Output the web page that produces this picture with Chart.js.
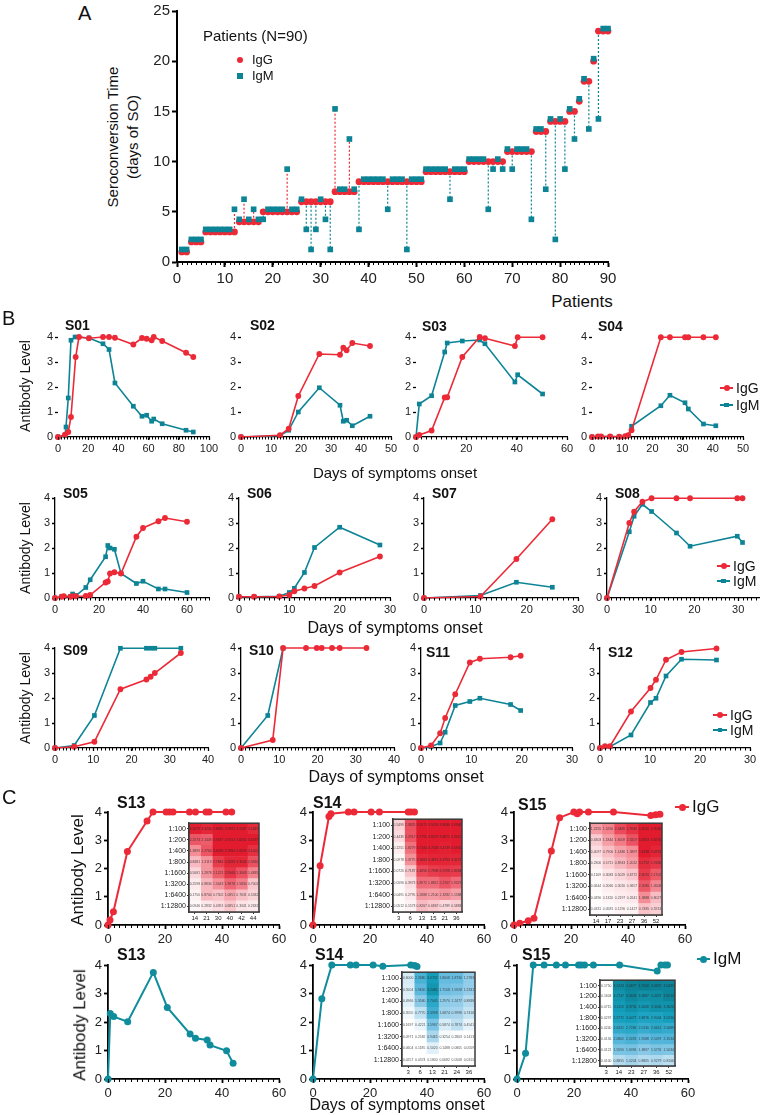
<!DOCTYPE html>
<html>
<head>
<meta charset="utf-8">
<title>Seroconversion and antibody kinetics</title>
<script src="https://cdn.jsdelivr.net/npm/chart.js@4.4.1/dist/chart.umd.min.js"></script>
<style>
  html, body { margin: 0; padding: 0; background: #fff; }
  body { position: relative; width: 760px; height: 1115px; overflow: hidden;
         font-family: "Liberation Sans", Arial, Helvetica, sans-serif; color: #111; }
  .txt { position: absolute; white-space: nowrap; line-height: 1.15; }
  .mk { position: absolute; }
</style>
</head>
<body>
<script>
// ---------- Panel A: seroconversion day for each of the 90 patients ----------
const PATIENT_IGG = [1,1, 2,2,2, 3,3,3,3,3,3,3, 4,4,4,4,4, 5,5,5,5,5,5,5,5, 6,6,6,6,6,6,6, 7,7,7,7,7,
  8,8,8,8,8,8,8,8,8,8,8,8,8,8, 9,9,9,9,9,9,9,9,9, 10,10,10,10,10,10,10,10, 11,11,11,11,11,11,
  13,13,13, 14,14,14,14, 15,15, 16, 18,18, 20, 23,23,23];
const PATIENT_IGM = [1,1, 2,2,2, 3,3,3,3,3,3,5, 4,6,4,5,4, 4,5,5,5,5,9,5,5, 6,3,1,3,6,4,1, 15,7,7,12,7,
  3,8,8,8,8,8,5,8,8,8,1,8,8,8, 9,9,9,9,9,6,9,9,9, 10,10,10,10,5,9,10,9, 11,9,11,11,11,4,
  13,13,7, 14,2,14,9, 15,12, 16, 18,13, 20, 14,23,23];
const IGM_SHIFT = 0.25;   // squares are drawn slightly above the circles, as in the figure

// ---------- Panel B: antibody level by day of symptoms onset ----------
const S01_DAYS = [0, 4.6, 5.3, 6.8, 8.6, 11.3, 11.7, 13.9, 20.5, 29.8, 33.8, 37.7, 49.9, 55.6, 58.7, 62, 63.4, 69, 84.8, 89.6];
const S01_IGG  = [0, 0.09, null, 0.2, 0.8, null, 3.2, 4, 3.95, 4, 4, 3.97, 3.7, 3.96, 3.93, 3.87, 4, 3.84, 3.37, 3.2];
const S01_IGM  = [0, 0.05, 0.4, 1.56, 3.87, 4, null, null, 3.96, 3.73, 3.5, 2.16, 1.23, 0.83, 0.87, 0.63, 0.72, 0.53, 0.27, 0.2];

const S02_DAYS = [0, 13, 15.9, 19.1, 26.1, 33, 34.1, 35.2, 37.1, 43];
const S02_IGG  = [0, 0.07, 0.33, 1.64, 3.32, 3.29, 3.57, 3.47, 3.76, 3.64];
const S02_IGM  = [0, 0.05, 0.27, 1.0, 1.97, 1.27, 0.63, 0.67, 0.45, 0.83];

const S03_DAYS = [0, 1.3, 6.2, 11.4, 12.4, 18.4, 25.3, 27.4, 39.3, 40.4, 50.3];
const S03_IGG  = [0, 0.08, 0.26, 1.58, 1.59, 3.2, 4.0, 3.95, 3.64, 3.99, 3.99];
const S03_IGM  = [0, 1.32, 1.65, 3.4, 3.76, 3.84, 3.88, 3.73, 2.2, 2.49, 1.72];

const S04_DAYS = [0, 2, 3, 6, 9, 11, 12, 13.1, 22.8, 25.8, 30.8, 31.9, 36.9, 41];
const S04_IGG  = [0, 0.02, 0.02, 0.02, 0.01, 0.03, 0.07, 0.27, 3.99, 3.99, 3.99, 3.99, 3.99, 3.99];
const S04_IGM  = [0, 0.02, 0.02, 0.02, 0.01, 0.03, 0.05, 0.43, 1.25, 1.67, 1.37, 1.12, 0.52, 0.45];

const S05_DAYS = [0, 3, 4, 7, 8, 9.5, 14, 16, 23, 24, 25, 27, 30, 37, 40, 47, 50, 60];
const S05_IGG  = [0, 0.05, 0.07, 0.05, 0.07, 0.07, 0.08, 0.12, 0.62, 0.66, 0.98, 1.03, 0.98, 2.45, 2.8, 3.07, 3.2, 3.05];
const S05_IGM  = [0, 0.05, 0.06, 0.06, 0.16, 0.1, 0.42, 0.73, 1.65, 2.1, 2.0, 1.95, 0.98, 0.58, 0.67, 0.36, 0.36, 0.22];

const S06_DAYS = [0, 3, 8, 10, 11, 13, 15, 20, 28];
const S06_IGG  = [0.05, 0.05, 0.06, 0.12, 0.27, 0.38, 0.48, 1.02, 1.66];
const S06_IGM  = [0.05, 0.05, 0.07, 0.22, 0.39, 1.02, 2.02, 2.83, 2.12];

const S07_DAYS = [0, 11, 18, 25];
const S07_IGG  = [0, 0.06, 1.56, 3.15];
const S07_IGM  = [0, 0.1, 0.63, 0.43];

const S08_DAYS = [0, 5.1, 6.2, 8.1, 10.2, 15.9, 19, 29.8, 31];
const S08_IGG  = [0, 3.0, 3.45, 3.85, 3.99, 3.99, 3.99, 3.99, 3.99];
const S08_IGM  = [0, 2.65, 3.27, 3.75, 3.46, 2.6, 2.07, 2.47, 2.22];

const S09_DAYS = [0, 5, 10.3, 17.1, 23.9, 25, 26.1, 32.9];
const S09_IGG  = [0, 0.05, 0.25, 2.35, 2.74, 2.85, 3.0, 3.8];
const S09_IGM  = [0, 0.1, 1.3, 3.99, 3.99, 3.99, 3.99, 3.99];

const S10_DAYS = [0, 7, 8.3, 11, 17, 19.8, 21.1, 23.8, 25.8, 32.8];
const S10_IGG  = [0, null, 0.32, 4, 4, 4, 4, 4, 4, 4];
const S10_IGM  = [0, 1.3, null, 3.99, null, null, null, null, null, null];

const S11_DAYS = [0, 2, 3.8, 4.8, 6.8, 9.7, 11.7, 17.8, 19.8];
const S11_IGG  = [0, 0.1, 0.59, 1.2, 2.15, 3.42, 3.57, 3.63, 3.69];
const S11_IGM  = [0, 0.05, 0.2, 0.63, 1.7, 1.86, 1.99, 1.74, 1.5];

const S12_DAYS = [0, 1, 2, 6.2, 10.1, 11.2, 13.2, 16.3, 23.3];
const S12_IGG  = [0, 0.07, 0.07, 1.46, 2.4, 2.73, 3.53, 3.84, 3.98];
const S12_IGM  = [0, 0.05, 0.05, 0.52, 1.82, 1.99, 2.88, 3.55, 3.52];

// ---------- Panel C: IgG (top) and IgM (bottom) for S13-S15 ----------
const S13_IGG_DAYS = [0, 0.7, 1.9, 6.8, 13.7, 15.8, 20.4, 21.6, 22.8, 28.6, 30.7, 34.4, 35.5, 41.4, 43.4];
const S13_IGG      = [0, 0.18, 0.47, 2.6, 3.68, 4, 4, 4, 4, 4, 4, 4, 4, 4, 4];
const S14_IGG_DAYS = [0, 2.5, 5.6, 6.3, 12.4, 14.4, 20.4, 23.3, 33.4, 34.4, 35.6];
const S14_IGG      = [0, 2.1, 3.84, 3.94, 4, 4, 4, 4, 4, 4, 4];
const S15_IGG_DAYS = [0, 2, 5, 7, 13.1, 16, 21, 22.2, 23, 26.1, 34.9, 48, 49.7, 51.2];
const S15_IGG      = [0, 0.06, 0.15, 0.24, 2.62, 3.8, 4, 3.94, 4, 4, 4, 3.88, 3.9, 3.92];
const S13_IGM_DAYS = [0, 0.8, 2, 6.9, 15.9, 20.8, 28.8, 30.7, 34.8, 35.8, 41.6, 43.9];
const S13_IGM      = [0, 2.3, 2.19, 2.01, 3.74, 2.51, 1.58, 1.43, 1.37, 1.19, 0.99, 0.55];
const S14_IGM_DAYS = [0, 3.1, 6.6, 13.1, 15.1, 21.1, 24.5, 34.3, 35.7, 36.5];
const S14_IGM      = [0, 2.82, 4, 4, 4, 4, 3.96, 4, 3.98, 3.95];
const S15_IGM_DAYS = [0, 3, 5.7, 9.5, 13.8, 17, 21.6, 22.5, 23.7, 26.8, 36, 49.2, 50.5, 51.9, 52.8];
const S15_IGM      = [0, 0.9, 4, 4, 4, 4, 4, 4, 4, 4, 4, 3.79, 4, 4, 4];

// heat-map insets: rows are serum dilutions, columns are sampling days
const DILUTIONS = ['1:100', '1:200', '1:400', '1:800', '1:1600', '1:3200', '1:6400', '1:12800'];
const HM_S13_IGG_COLS = ['14', '21', '30', '40', '42', '44'];
const HM_S13_IGG = [
  [3.5679, 3.3234, 3.8686, 3.9692, 3.9087, 3.2449],
  [2.2573, 2.1449, 3.9187, 3.9152, 3.8262, 3.6737],
  [1.3899, 2.2764, 3.8438, 3.7884, 3.6595, 3.1002],
  [0.8481, 1.3119, 2.7884, 3.3288, 3.3543, 2.3560],
  [0.5081, 1.2878, 2.1221, 2.9568, 2.3343, 1.4835],
  [0.2598, 0.8834, 1.3443, 1.9878, 1.5830, 0.7002],
  [0.1750, 0.8704, 0.7302, 1.0851, 0.7631, 0.5332],
  [0.0946, 0.2832, 0.4391, 0.6851, 0.3341, 0.2632]];
const HM_S14_IGG_COLS = ['3', '6', '13', '15', '21', '36'];
const HM_S14_IGG = [
  [0.5499, 2.3825, 3.9571, 3.9439, 3.8686, 3.9984],
  [0.4439, 2.2917, 3.7795, 3.8279, 3.8872, 3.9415],
  [0.2251, 1.8279, 3.7144, 3.7343, 3.4739, 3.5901],
  [0.0978, 1.3775, 3.2683, 3.3871, 3.3793, 3.3273],
  [0.0720, 0.7187, 2.4856, 2.7898, 2.9198, 2.8284],
  [0.0596, 0.3973, 1.8972, 1.8812, 2.2707, 1.9327],
  [0.0491, 0.2795, 1.2688, 1.2100, 1.3282, 1.1588],
  [0.0512, 0.1573, 0.8267, 0.6867, 0.4789, 0.5883]];
const HM_S15_IGG_COLS = ['14', '17', '23', '27', '36', '52'];
const HM_S15_IGG = [
  [1.2255, 1.5290, 2.4489, 2.9949, 3.8526, 3.9036],
  [0.6303, 1.1844, 1.6509, 2.3207, 3.8263, 3.8276],
  [0.4097, 0.7906, 1.1486, 1.3897, 3.6338, 3.3776],
  [0.2306, 0.5711, 0.8943, 1.2012, 3.1792, 2.9186],
  [0.1109, 0.3083, 0.5029, 0.6772, 2.8070, 2.1702],
  [0.0644, 0.2066, 0.3020, 0.3657, 2.2085, 1.4508],
  [0.0390, 0.1320, 0.2197, 0.2641, 1.3888, 0.8027],
  [0.0331, 0.0581, 0.1296, 0.1427, 0.7485, 0.5913]];
const HM_S14_IGM_COLS = ['3', '6', '13', '21', '24', '36'];
const HM_S14_IGM = [
  [0.6000, 2.2680, 3.0732, 1.8608, 1.8730, 1.2783],
  [0.5504, 1.9650, 3.2482, 1.7108, 1.5928, 1.2331],
  [0.4966, 1.3580, 2.7045, 1.2970, 1.2477, 0.8838],
  [0.3555, 0.7770, 2.3998, 1.0874, 0.9998, 0.7416],
  [0.1697, 0.4221, 1.5967, 0.5874, 0.7874, 0.4541],
  [0.0971, 0.2582, 0.9465, 0.3254, 0.2803, 0.1413],
  [0.0604, 0.1185, 0.5020, 0.1488, 0.0805, 0.0559],
  [0.0257, 0.0374, 0.1800, 0.0682, 0.0508, 0.0315]];
const HM_S15_IGM_COLS = ['3', '14', '23', '27', '36', '52'];
const HM_S15_IGM = [
  [0.1750, 3.5243, 3.6877, 3.7608, 3.6837, 3.6439],
  [0.1603, 3.2747, 3.5603, 3.3887, 3.4327, 3.6214],
  [0.0715, 3.1113, 3.3756, 3.1608, 3.3406, 3.3026],
  [0.0297, 2.9772, 3.0477, 2.8876, 2.9044, 3.0236],
  [0.0240, 2.6321, 2.7283, 2.5130, 2.6612, 2.5689],
  [0.0156, 2.0802, 2.2492, 1.9588, 2.1097, 2.1534],
  [0.0121, 1.5590, 1.6396, 1.3897, 1.5731, 1.5034],
  [0.0100, 0.8855, 1.0204, 0.8865, 0.9279, 0.8106]];

// ---------- styling ----------
const RED = '#ec2a37';
const TEAL = '#0d8496';
const TEAL_C = '#0f8d9c';
const FONT = '"Liberation Sans", Arial, Helvetica, sans-serif';

// small ruler ticks along the x axis
const minorTicks = {
  id: 'minorTicks',
  afterDraw(chart, args, opts) {
    if (!opts || !opts.step) return;
    const sx = chart.scales.x, ctx = chart.ctx, y0 = chart.chartArea.bottom;
    const n = Math.round((sx.max - sx.min) / opts.step);
    ctx.save();
    ctx.strokeStyle = '#000';
    ctx.lineWidth = 1;
    ctx.beginPath();
    for (let i = 0; i <= n; i++) {
      const px = Math.round(sx.getPixelForValue(sx.min + i * opts.step)) + 0.5;
      ctx.moveTo(px, y0);
      ctx.lineTo(px, y0 + opts.len);
    }
    ctx.stroke();
    ctx.restore();
  }
};

// numbers inside the heat-map cells and the frame around it
const cellText = {
  id: 'cellText',
  afterDatasetsDraw(chart, args, opts) {
    if (!opts || !opts.values) return;
    const ctx = chart.ctx, a = chart.chartArea;
    ctx.save();
    ctx.font = '3.4px ' + FONT;
    ctx.fillStyle = 'rgba(40,40,40,0.8)';
    ctx.textAlign = 'center';
    ctx.textBaseline = 'middle';
    chart.data.datasets.forEach((ds, j) => {
      chart.getDatasetMeta(j).data.forEach((bar, i) => {
        ctx.fillText(opts.values[i][j].toFixed(4), (bar.x + bar.base) / 2, bar.y);
      });
    });
    ctx.strokeStyle = '#3a3a3a';
    ctx.lineWidth = 1.5;
    ctx.strokeRect(a.left, a.top, a.right - a.left, a.bottom - a.top);
    ctx.restore();
  }
};

Chart.register(minorTicks, cellText);

function addCanvas(left, top, w, h) {
  const cv = document.createElement('canvas');
  cv.width = w;
  cv.height = h;
  cv.style.cssText = `position:absolute;left:${left}px;top:${top}px;width:${w}px;height:${h}px`;
  document.body.appendChild(cv);
  return cv;
}

function points(days, vals) {
  return days.map((d, i) => ({ x: d, y: vals[i] }));
}

function makeLineChart(cfg) {
  const PT = 10, PR = 14;
  const W = cfg.w + cfg.yw + PR, H = cfg.h + PT + cfg.xh;
  const cv = addCanvas(cfg.left - cfg.yw, cfg.top - PT, W, H);
  const tickFont = { family: FONT, size: cfg.fs };
  const grid = { drawOnChartArea: false, drawTicks: true, tickLength: cfg.tl, color: '#000', tickWidth: cfg.bw };
  return new Chart(cv, {
    type: 'line',
    data: { datasets: cfg.datasets },
    options: {
      responsive: false,
      animation: false,
      devicePixelRatio: 1,
      layout: { padding: { top: PT, right: PR, left: 0, bottom: 0 } },
      plugins: {
        legend: { display: false },
        tooltip: { enabled: false },
        minorTicks: { step: cfg.minor, len: cfg.minorLen || 2.5 }
      },
      scales: {
        x: {
          type: 'linear', min: 0, max: cfg.xMax,
          // keep only the round major ticks (drop the extra tick Chart.js adds at max)
          afterBuildTicks: s => { s.ticks = s.ticks.filter(t => Math.abs(t.value / cfg.xStep - Math.round(t.value / cfg.xStep)) < 1e-6); },
          afterFit: s => { s.height = cfg.xh; },
          ticks: { stepSize: cfg.xStep, font: tickFont, color: '#222', padding: cfg.xpad, maxRotation: 0, autoSkip: false },
          grid: grid,
          border: { display: true, color: '#000', width: cfg.bw }
        },
        y: {
          min: 0, max: cfg.yMax,
          afterFit: s => { s.width = cfg.yw; },
          ticks: { stepSize: cfg.yStep, font: tickFont, color: '#222', padding: 2 },
          grid: grid,
          border: { display: cfg.yBorder, color: '#000', width: cfg.bw }
        }
      }
    }
  });
}

function makeHeatmap(cfg) {
  const YW = 32, XH = 11, PT = 3, PR = 3;
  const W = cfg.w + YW + PR, H = cfg.h + PT + XH;
  const cv = addCanvas(cfg.left - YW, cfg.top - PT, W, H);
  const datasets = cfg.cols.map((c, j) => ({
    data: DILUTIONS.map(() => 1),
    backgroundColor: DILUTIONS.map((_, i) => cfg.colour(cfg.values[i][j])),
    borderWidth: 0, barPercentage: 1, categoryPercentage: 1, stack: 'cells'
  }));
  return new Chart(cv, {
    type: 'bar',
    data: { labels: DILUTIONS, datasets: datasets },
    options: {
      indexAxis: 'y',
      responsive: false,
      animation: false,
      devicePixelRatio: 1,
      layout: { padding: { top: PT, right: PR, left: 0, bottom: 0 } },
      plugins: { legend: { display: false }, tooltip: { enabled: false }, cellText: { values: cfg.values } },
      scales: {
        x: {
          type: 'linear', stacked: true, min: 0, max: cfg.cols.length,
          afterBuildTicks: s => { s.ticks = cfg.cols.map((c, j) => ({ value: j + 0.5 })); },
          afterFit: s => { s.height = XH; },
          ticks: { callback: (v, i) => cfg.cols[i], font: { family: FONT, size: 6 }, color: '#222', padding: 1, maxRotation: 0, autoSkip: false },
          grid: { drawOnChartArea: false, tickLength: 2, color: '#333' },
          border: { color: '#3a3a3a', width: 1.5 }
        },
        y: {
          stacked: true,
          afterFit: s => { s.width = YW; },
          ticks: { font: { family: FONT, size: 7 }, color: '#222', padding: 1, autoSkip: false },
          grid: { drawOnChartArea: false, tickLength: 2, color: '#333', offset: false },
          border: { color: '#3a3a3a', width: 1.5 }
        }
      }
    }
  });
}

function mixColour(stops, v) {
  const rgb = c => `rgb(${c.map(Math.round).join(',')})`;
  if (v <= stops[0][0]) return rgb(stops[0][1]);
  for (let k = 1; k < stops.length; k++) {
    if (v <= stops[k][0]) {
      const [v0, c0] = stops[k - 1], [v1, c1] = stops[k];
      const t = (v - v0) / (v1 - v0);
      return rgb(c0.map((c, q) => c + (c1[q] - c) * t));
    }
  }
  return rgb(stops[stops.length - 1][1]);
}
const redScale = v => mixColour([[0, [255, 255, 255]], [0.5, [250, 214, 218]], [1.5, [243, 132, 142]], [2.5, [235, 72, 88]], [3.6, [226, 28, 46]]], v);
const blueScale = v => mixColour([[0.25, [255, 255, 255]], [1, [165, 212, 236]], [2, [92, 184, 222]], [3, [22, 160, 190]], [4, [8, 118, 134]]], v);

// ---------- text helpers ----------
function text(str, x, y, size, opts) {
  opts = opts || {};
  const d = document.createElement('div');
  d.className = 'txt';
  d.textContent = str;
  d.style.fontSize = size + 'px';
  d.style.left = x + 'px';
  d.style.top = y + 'px';
  if (opts.bold) d.style.fontWeight = 'bold';
  if (opts.rotate) d.style.transform = 'translate(-50%, -50%) rotate(-90deg)';
  else d.style.transform = opts.center ? 'translate(-50%, -50%)' : 'translate(0, -50%)';
  document.body.appendChild(d);
}

function marker(x, y, size, colour, shape) {
  const m = document.createElement('div');
  m.className = 'mk';
  m.style.cssText += `left:${x - size / 2}px;top:${y - size / 2}px;width:${size}px;height:${size}px;background:${colour};` +
    (shape === 'circle' ? 'border-radius:50%;' : '');
  document.body.appendChild(m);
}

function legendLine(x1, x2, y, colour, shape, size, label, fs) {
  const l = document.createElement('div');
  l.className = 'mk';
  l.style.cssText += `left:${x1}px;top:${y - 0.8}px;width:${x2 - x1}px;height:1.6px;background:${colour};`;
  document.body.appendChild(l);
  marker((x1 + x2) / 2, y, size, colour, shape);
  text(label, x2 + 3, y, fs);
}

// ---------- Panel A ----------
const dashRed = [], dashTeal = [];
PATIENT_IGG.forEach((g, i) => {
  const m = PATIENT_IGM[i];
  if (m === g) return;
  const target = m > g ? dashRed : dashTeal;
  target.push({ x: i + 1, y: g }, { x: i + 1, y: m + IGM_SHIFT }, { x: i + 1, y: null });
});

makeLineChart({
  left: 177, top: 10, w: 431, h: 252, yw: 30, xh: 26, fs: 15, tl: 5, bw: 2, xpad: 3,
  xMax: 90, xStep: 10, yMax: 25, yStep: 5, minor: 1, minorLen: 3, yBorder: true,
  datasets: [
    { data: PATIENT_IGM.map((m, i) => ({ x: i + 1, y: m + IGM_SHIFT })), showLine: false, pointStyle: 'rect',
      pointRadius: 4, pointBorderWidth: 0, pointBackgroundColor: TEAL, clip: false },
    { data: PATIENT_IGG.map((g, i) => ({ x: i + 1, y: g })), showLine: false, pointStyle: 'circle',
      pointRadius: 3.4, pointBorderWidth: 0, pointBackgroundColor: RED, clip: false },
    { data: dashRed, borderColor: RED, borderWidth: 1.2, borderDash: [2, 2], pointRadius: 0, spanGaps: false },
    { data: dashTeal, borderColor: TEAL, borderWidth: 1.2, borderDash: [2, 2], pointRadius: 0, spanGaps: false }
  ]
});

text('A', 78, 13, 20);
text('Patients (N=90)', 203, 36, 15);
marker(240, 60, 6.8, RED, 'circle');
text('IgG', 252, 60, 13);
marker(240, 76, 6, TEAL, 'rect');
text('IgM', 252, 76, 13);
text('Seroconversion Time', 113, 137, 15, { rotate: true });
text('(days of SO)', 133, 137, 15, { rotate: true });
text('Patients', 582, 302, 17, { center: true });

// ---------- Panel B ----------
const B_PANELS = [
  { name: 'S01', days: S01_DAYS, igg: S01_IGG, igm: S01_IGM, left: 58,  top: 337, w: 151, xMax: 100, xStep: 20, minor: 2, yBorder: false, tx: 65,  ty: 325 },
  { name: 'S02', days: S02_DAYS, igg: S02_IGG, igm: S02_IGM, left: 241, top: 337, w: 150, xMax: 50,  xStep: 10, minor: 1, yBorder: false, tx: 250, ty: 325 },
  { name: 'S03', days: S03_DAYS, igg: S03_IGG, igm: S03_IGM, left: 416, top: 337, w: 151, xMax: 60,  xStep: 20, minor: 2, yBorder: false, tx: 422, ty: 326 },
  { name: 'S04', days: S04_DAYS, igg: S04_IGG, igm: S04_IGM, left: 592, top: 337, w: 151, xMax: 50,  xStep: 10, minor: 1, yBorder: false, tx: 598, ty: 326 },
  { name: 'S05', days: S05_DAYS, igg: S05_IGG, igm: S05_IGM, left: 55,  top: 498, w: 154, xMax: 70,  xStep: 20, minor: 2, yBorder: true, tx: 63,  ty: 493 },
  { name: 'S06', days: S06_DAYS, igg: S06_IGG, igm: S06_IGM, left: 239, top: 498, w: 151, xMax: 30,  xStep: 10, minor: 1, yBorder: true, tx: 247, ty: 493 },
  { name: 'S07', days: S07_DAYS, igg: S07_IGG, igm: S07_IGM, left: 424, top: 498, w: 154, xMax: 30,  xStep: 10, minor: 1, yBorder: true, tx: 432, ty: 493 },
  { name: 'S08', days: S08_DAYS, igg: S08_IGG, igm: S08_IGM, left: 607, top: 498, w: 153, xMax: 35,  xStep: 10, minor: 1, yBorder: true, tx: 615, ty: 493 },
  { name: 'S09', days: S09_DAYS, igg: S09_IGG, igm: S09_IGM, left: 55,  top: 648, w: 153, xMax: 40,  xStep: 10, minor: 1, yBorder: true, tx: 63,  ty: 650 },
  { name: 'S10', days: S10_DAYS, igg: S10_IGG, igm: S10_IGM, left: 241, top: 648, w: 153, xMax: 40,  xStep: 10, minor: 1, yBorder: true, tx: 249, ty: 650 },
  { name: 'S11', days: S11_DAYS, igg: S11_IGG, igm: S11_IGM, left: 421, top: 648, w: 151, xMax: 30,  xStep: 10, minor: 1, yBorder: true, tx: 426, ty: 652 },
  { name: 'S12', days: S12_DAYS, igg: S12_IGG, igm: S12_IGM, left: 600, top: 648, w: 150, xMax: 30,  xStep: 10, minor: 1, yBorder: true, tx: 608, ty: 652 }
];

B_PANELS.forEach(p => {
  makeLineChart({
    left: p.left, top: p.top, w: p.w, h: 100, yw: 22, xh: 22, fs: 11, tl: 3, bw: 1.3, xpad: 2,
    xMax: p.xMax, xStep: p.xStep, yMax: 4, yStep: 1, minor: p.minor, minorLen: 2.5, yBorder: p.yBorder,
    datasets: [
      { data: points(p.days, p.igg), borderColor: RED, borderWidth: 1.6, pointStyle: 'circle', pointRadius: 2.9,
        pointBorderWidth: 0, pointBackgroundColor: RED, spanGaps: true, clip: false },
      { data: points(p.days, p.igm), borderColor: TEAL, borderWidth: 1.6, pointStyle: 'rect', pointRadius: 3.3,
        pointBorderWidth: 0, pointBackgroundColor: TEAL, spanGaps: true, clip: false }
    ]
  });
  text(p.name, p.tx, p.ty, 14, { bold: true });
});

text('B', 2, 318, 20);
[386, 548, 698].forEach(y => text('Antibody Level', 25, y, 14, { rotate: true }));
text('Days of symptoms onset', 395, 473, 15, { center: true });
text('Days of symptoms onset', 395, 628, 16, { center: true });
text('Days of symptoms onset', 396, 777, 16, { center: true });
[[720, 733, 388, 405], [717, 730, 566, 581], [713, 727, 715, 730]].forEach(([x1, x2, yg, ym]) => {
  legendLine(x1, x2, yg, RED, 'circle', 6, 'IgG', 14);
  legendLine(x1, x2, ym, TEAL, 'rect', 4.8, 'IgM', 14);
});

// ---------- Panel C ----------
const C_PANELS = [
  { name: 'S13', days: S13_IGG_DAYS, vals: S13_IGG, colour: RED,    left: 108, top: 812, h: 113, tx: 117, ty: 803 },
  { name: 'S14', days: S14_IGG_DAYS, vals: S14_IGG, colour: RED,    left: 313, top: 812, h: 113, tx: 313, ty: 803 },
  { name: 'S15', days: S15_IGG_DAYS, vals: S15_IGG, colour: RED,    left: 514, top: 812, h: 113, tx: 518, ty: 805 },
  { name: 'S13', days: S13_IGM_DAYS, vals: S13_IGM, colour: TEAL_C, left: 108, top: 965, h: 114, tx: 117, ty: 955 },
  { name: 'S14', days: S14_IGM_DAYS, vals: S14_IGM, colour: TEAL_C, left: 313, top: 965, h: 114, tx: 315, ty: 955 },
  { name: 'S15', days: S15_IGM_DAYS, vals: S15_IGM, colour: TEAL_C, left: 517, top: 965, h: 114, tx: 522, ty: 955 }
];

C_PANELS.forEach(p => {
  makeLineChart({
    left: p.left, top: p.top, w: 171, h: p.h, yw: 20, xh: 24, fs: 13, tl: 4, bw: 1.8, xpad: 3,
    xMax: 60, xStep: 20, yMax: 4, yStep: 1, minor: 2, minorLen: 3, yBorder: true,
    datasets: [
      { data: points(p.days, p.vals), borderColor: p.colour, borderWidth: 2, pointStyle: 'circle', pointRadius: 3.5,
        pointBorderWidth: 0, pointBackgroundColor: p.colour, clip: false }
    ]
  });
  text(p.name, p.tx, p.ty, 16, { bold: true });
});

makeHeatmap({ left: 189, top: 821, w: 70, h: 91, cols: HM_S13_IGG_COLS, values: HM_S13_IGG, colour: redScale });
makeHeatmap({ left: 393, top: 817, w: 69, h: 95, cols: HM_S14_IGG_COLS, values: HM_S14_IGG, colour: redScale });
makeHeatmap({ left: 590, top: 821, w: 72, h: 94, cols: HM_S15_IGG_COLS, values: HM_S15_IGG, colour: redScale });
makeHeatmap({ left: 402, top: 970, w: 73, h: 96, cols: HM_S14_IGM_COLS, values: HM_S14_IGM, colour: blueScale });
makeHeatmap({ left: 600, top: 978, w: 75, h: 88, cols: HM_S15_IGM_COLS, values: HM_S15_IGM, colour: blueScale });

text('C', 2, 797, 20);
text('Antibody Level', 78, 870, 17, { rotate: true });
text('Antibody Level', 80, 1025, 17, { rotate: true });
text('Days of symptoms onset', 397, 1105, 16, { center: true });
legendLine(675, 689, 807, RED, 'circle', 7, 'IgG', 17);
legendLine(697, 710, 959, TEAL_C, 'circle', 7, 'IgM', 17);
</script>
</body>
</html>
